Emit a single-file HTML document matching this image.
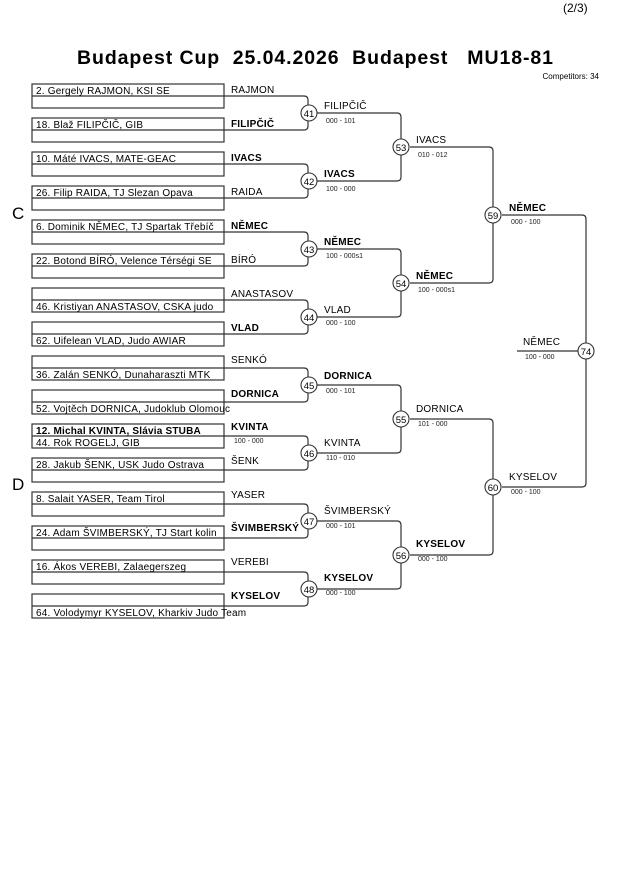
<!DOCTYPE html>
<html><head><meta charset="utf-8"><style>
body{margin:0;background:#fff;}
svg{display:block;font-family:"Liberation Sans",Arial,sans-serif;}
.n{font-size:10px;letter-spacing:0.2px;fill:#000}
.b{font-weight:bold}
.s{font-size:7px;fill:#222}
.t{white-space:pre}
</style></head><body>
<svg width="630" height="891" viewBox="0 0 630 891" xmlns="http://www.w3.org/2000/svg" xml:space="preserve">
<text x="563" y="12" font-size="12">(2/3)</text>
<text x="77" y="64" font-size="19.5" font-weight="bold" class="t" textLength="476" lengthAdjust="spacing">Budapest Cup  25.04.2026  Budapest   MU18-81</text>
<text x="599" y="79" font-size="8" text-anchor="end">Competitors: 34</text>
<text x="12" y="219" font-size="17">C</text>
<text x="12" y="490" font-size="17">D</text>
<g fill="none" stroke="#333" stroke-width="1.2">
<rect x="32" y="84" width="192" height="24"/><line x1="32" y1="96" x2="224" y2="96"/>
<rect x="32" y="118" width="192" height="24"/><line x1="32" y1="130" x2="224" y2="130"/>
<rect x="32" y="152" width="192" height="24"/><line x1="32" y1="164" x2="224" y2="164"/>
<rect x="32" y="186" width="192" height="24"/><line x1="32" y1="198" x2="224" y2="198"/>
<rect x="32" y="220" width="192" height="24"/><line x1="32" y1="232" x2="224" y2="232"/>
<rect x="32" y="254" width="192" height="24"/><line x1="32" y1="266" x2="224" y2="266"/>
<rect x="32" y="288" width="192" height="24"/><line x1="32" y1="300" x2="224" y2="300"/>
<rect x="32" y="322" width="192" height="24"/><line x1="32" y1="334" x2="224" y2="334"/>
<rect x="32" y="356" width="192" height="24"/><line x1="32" y1="368" x2="224" y2="368"/>
<rect x="32" y="390" width="192" height="24"/><line x1="32" y1="402" x2="224" y2="402"/>
<rect x="32" y="424" width="192" height="24"/><line x1="32" y1="436" x2="224" y2="436"/>
<rect x="32" y="458" width="192" height="24"/><line x1="32" y1="470" x2="224" y2="470"/>
<rect x="32" y="492" width="192" height="24"/><line x1="32" y1="504" x2="224" y2="504"/>
<rect x="32" y="526" width="192" height="24"/><line x1="32" y1="538" x2="224" y2="538"/>
<rect x="32" y="560" width="192" height="24"/><line x1="32" y1="572" x2="224" y2="572"/>
<rect x="32" y="594" width="192" height="24"/><line x1="32" y1="606" x2="224" y2="606"/>
<path d="M224,96H304Q308,96 308,100V126Q308,130 304,130H224"/>
<path d="M224,164H304Q308,164 308,168V194Q308,198 304,198H224"/>
<path d="M224,232H304Q308,232 308,236V262Q308,266 304,266H224"/>
<path d="M224,300H304Q308,300 308,304V330Q308,334 304,334H224"/>
<path d="M224,368H304Q308,368 308,372V398Q308,402 304,402H224"/>
<path d="M224,436H304Q308,436 308,440V466Q308,470 304,470H224"/>
<path d="M224,504H304Q308,504 308,508V534Q308,538 304,538H224"/>
<path d="M224,572H304Q308,572 308,576V602Q308,606 304,606H224"/>
<path d="M317,113H397Q401,113 401,117V177Q401,181 397,181H317"/>
<path d="M317,249H397Q401,249 401,253V313Q401,317 397,317H317"/>
<path d="M317,385H397Q401,385 401,389V449Q401,453 397,453H317"/>
<path d="M317,521H397Q401,521 401,525V585Q401,589 397,589H317"/>
<path d="M410,147H489Q493,147 493,151V279Q493,283 489,283H410"/>
<path d="M410,419H489Q493,419 493,423V551Q493,555 489,555H410"/>
<path d="M502,215H582Q586,215 586,219V483Q586,487 582,487H502"/>
<line x1="517" y1="351" x2="578" y2="351"/>
</g>
<g fill="#fff" stroke="#333" stroke-width="1.1">
<circle cx="309" cy="113" r="8"/><circle cx="309" cy="181" r="8"/><circle cx="309" cy="249" r="8"/><circle cx="309" cy="317" r="8"/>
<circle cx="309" cy="385" r="8"/><circle cx="309" cy="453" r="8"/><circle cx="309" cy="521" r="8"/><circle cx="309" cy="589" r="8"/>
<circle cx="401" cy="147" r="8"/><circle cx="401" cy="283" r="8"/><circle cx="401" cy="419" r="8"/><circle cx="401" cy="555" r="8"/>
<circle cx="493" cy="215" r="8"/><circle cx="493" cy="487" r="8"/><circle cx="586" cy="351" r="8"/>
</g>
<g font-size="9.5" text-anchor="middle">
<text x="309" y="117">41</text><text x="309" y="185">42</text><text x="309" y="253">43</text><text x="309" y="321">44</text>
<text x="309" y="389">45</text><text x="309" y="457">46</text><text x="309" y="525">47</text><text x="309" y="593">48</text>
<text x="401" y="151">53</text><text x="401" y="287">54</text><text x="401" y="423">55</text><text x="401" y="559">56</text>
<text x="493" y="219">59</text><text x="493" y="491">60</text><text x="586" y="355">74</text>
</g>
<g class="n">
<text x="36" y="94">2. Gergely RAJMON, KSI SE</text>
<text x="36" y="128">18. Blaž FILIPČIČ, GIB</text>
<text x="36" y="162">10. Máté IVACS, MATE-GEAC</text>
<text x="36" y="196">26. Filip RAIDA, TJ Slezan Opava</text>
<text x="36" y="230">6. Dominik NĚMEC, TJ Spartak Třebíč</text>
<text x="36" y="264">22. Botond BÍRÓ, Velence Térségi SE</text>
<text x="36" y="310">46. Kristiyan ANASTASOV, CSKA judo</text>
<text x="36" y="344">62. Uifelean VLAD, Judo AWIAR</text>
<text x="36" y="378">36. Zalán SENKÓ, Dunaharaszti MTK</text>
<text x="36" y="412">52. Vojtěch DORNICA, Judoklub Olomouc</text>
<text x="36" y="434" class="b">12. Michal KVINTA, Slávia STUBA</text>
<text x="36" y="446">44. Rok ROGELJ, GIB</text>
<text x="36" y="468">28. Jakub ŠENK, USK Judo Ostrava</text>
<text x="36" y="502">8. Salait YASER, Team Tirol</text>
<text x="36" y="536">24. Adam ŠVIMBERSKÝ, TJ Start kolin</text>
<text x="36" y="570">16. Ákos VEREBI, Zalaegerszeg</text>
<text x="36" y="616">64. Volodymyr KYSELOV, Kharkiv Judo Team</text>
</g>
<g class="n">
<text x="231" y="93">RAJMON</text>
<text x="231" y="127" class="b">FILIPČIČ</text>
<text x="231" y="161" class="b">IVACS</text>
<text x="231" y="195">RAIDA</text>
<text x="231" y="229" class="b">NĚMEC</text>
<text x="231" y="263">BÍRÓ</text>
<text x="231" y="297">ANASTASOV</text>
<text x="231" y="331" class="b">VLAD</text>
<text x="231" y="363">SENKÓ</text>
<text x="231" y="397" class="b">DORNICA</text>
<text x="231" y="430" class="b">KVINTA</text>
<text x="231" y="464">ŠENK</text>
<text x="231" y="498">YASER</text>
<text x="231" y="531" class="b">ŠVIMBERSKÝ</text>
<text x="231" y="565">VEREBI</text>
<text x="231" y="599" class="b">KYSELOV</text>
</g>
<text x="234" y="443" class="s">100 - 000</text>
<g class="n">
<text x="324" y="109">FILIPČIČ</text>
<text x="324" y="177" class="b">IVACS</text>
<text x="324" y="245" class="b">NĚMEC</text>
<text x="324" y="313">VLAD</text>
<text x="324" y="379" class="b">DORNICA</text>
<text x="324" y="446">KVINTA</text>
<text x="324" y="514">ŠVIMBERSKÝ</text>
<text x="324" y="581" class="b">KYSELOV</text>
<text x="416" y="143">IVACS</text>
<text x="416" y="279" class="b">NĚMEC</text>
<text x="416" y="412">DORNICA</text>
<text x="416" y="547" class="b">KYSELOV</text>
<text x="509" y="211" class="b">NĚMEC</text>
<text x="509" y="480">KYSELOV</text>
<text x="523" y="345">NĚMEC</text>
</g>
<g class="s">
<text x="326" y="123">000 - 101</text>
<text x="326" y="191">100 - 000</text>
<text x="326" y="258">100 - 000s1</text>
<text x="326" y="325">000 - 100</text>
<text x="326" y="393">000 - 101</text>
<text x="326" y="460">110 - 010</text>
<text x="326" y="528">000 - 101</text>
<text x="326" y="595">000 - 100</text>
<text x="418" y="157">010 - 012</text>
<text x="418" y="292">100 - 000s1</text>
<text x="418" y="426">101 - 000</text>
<text x="418" y="561">000 - 100</text>
<text x="511" y="224">000 - 100</text>
<text x="511" y="494">000 - 100</text>
<text x="525" y="359">100 - 000</text>
</g>
</svg>
</body></html>
